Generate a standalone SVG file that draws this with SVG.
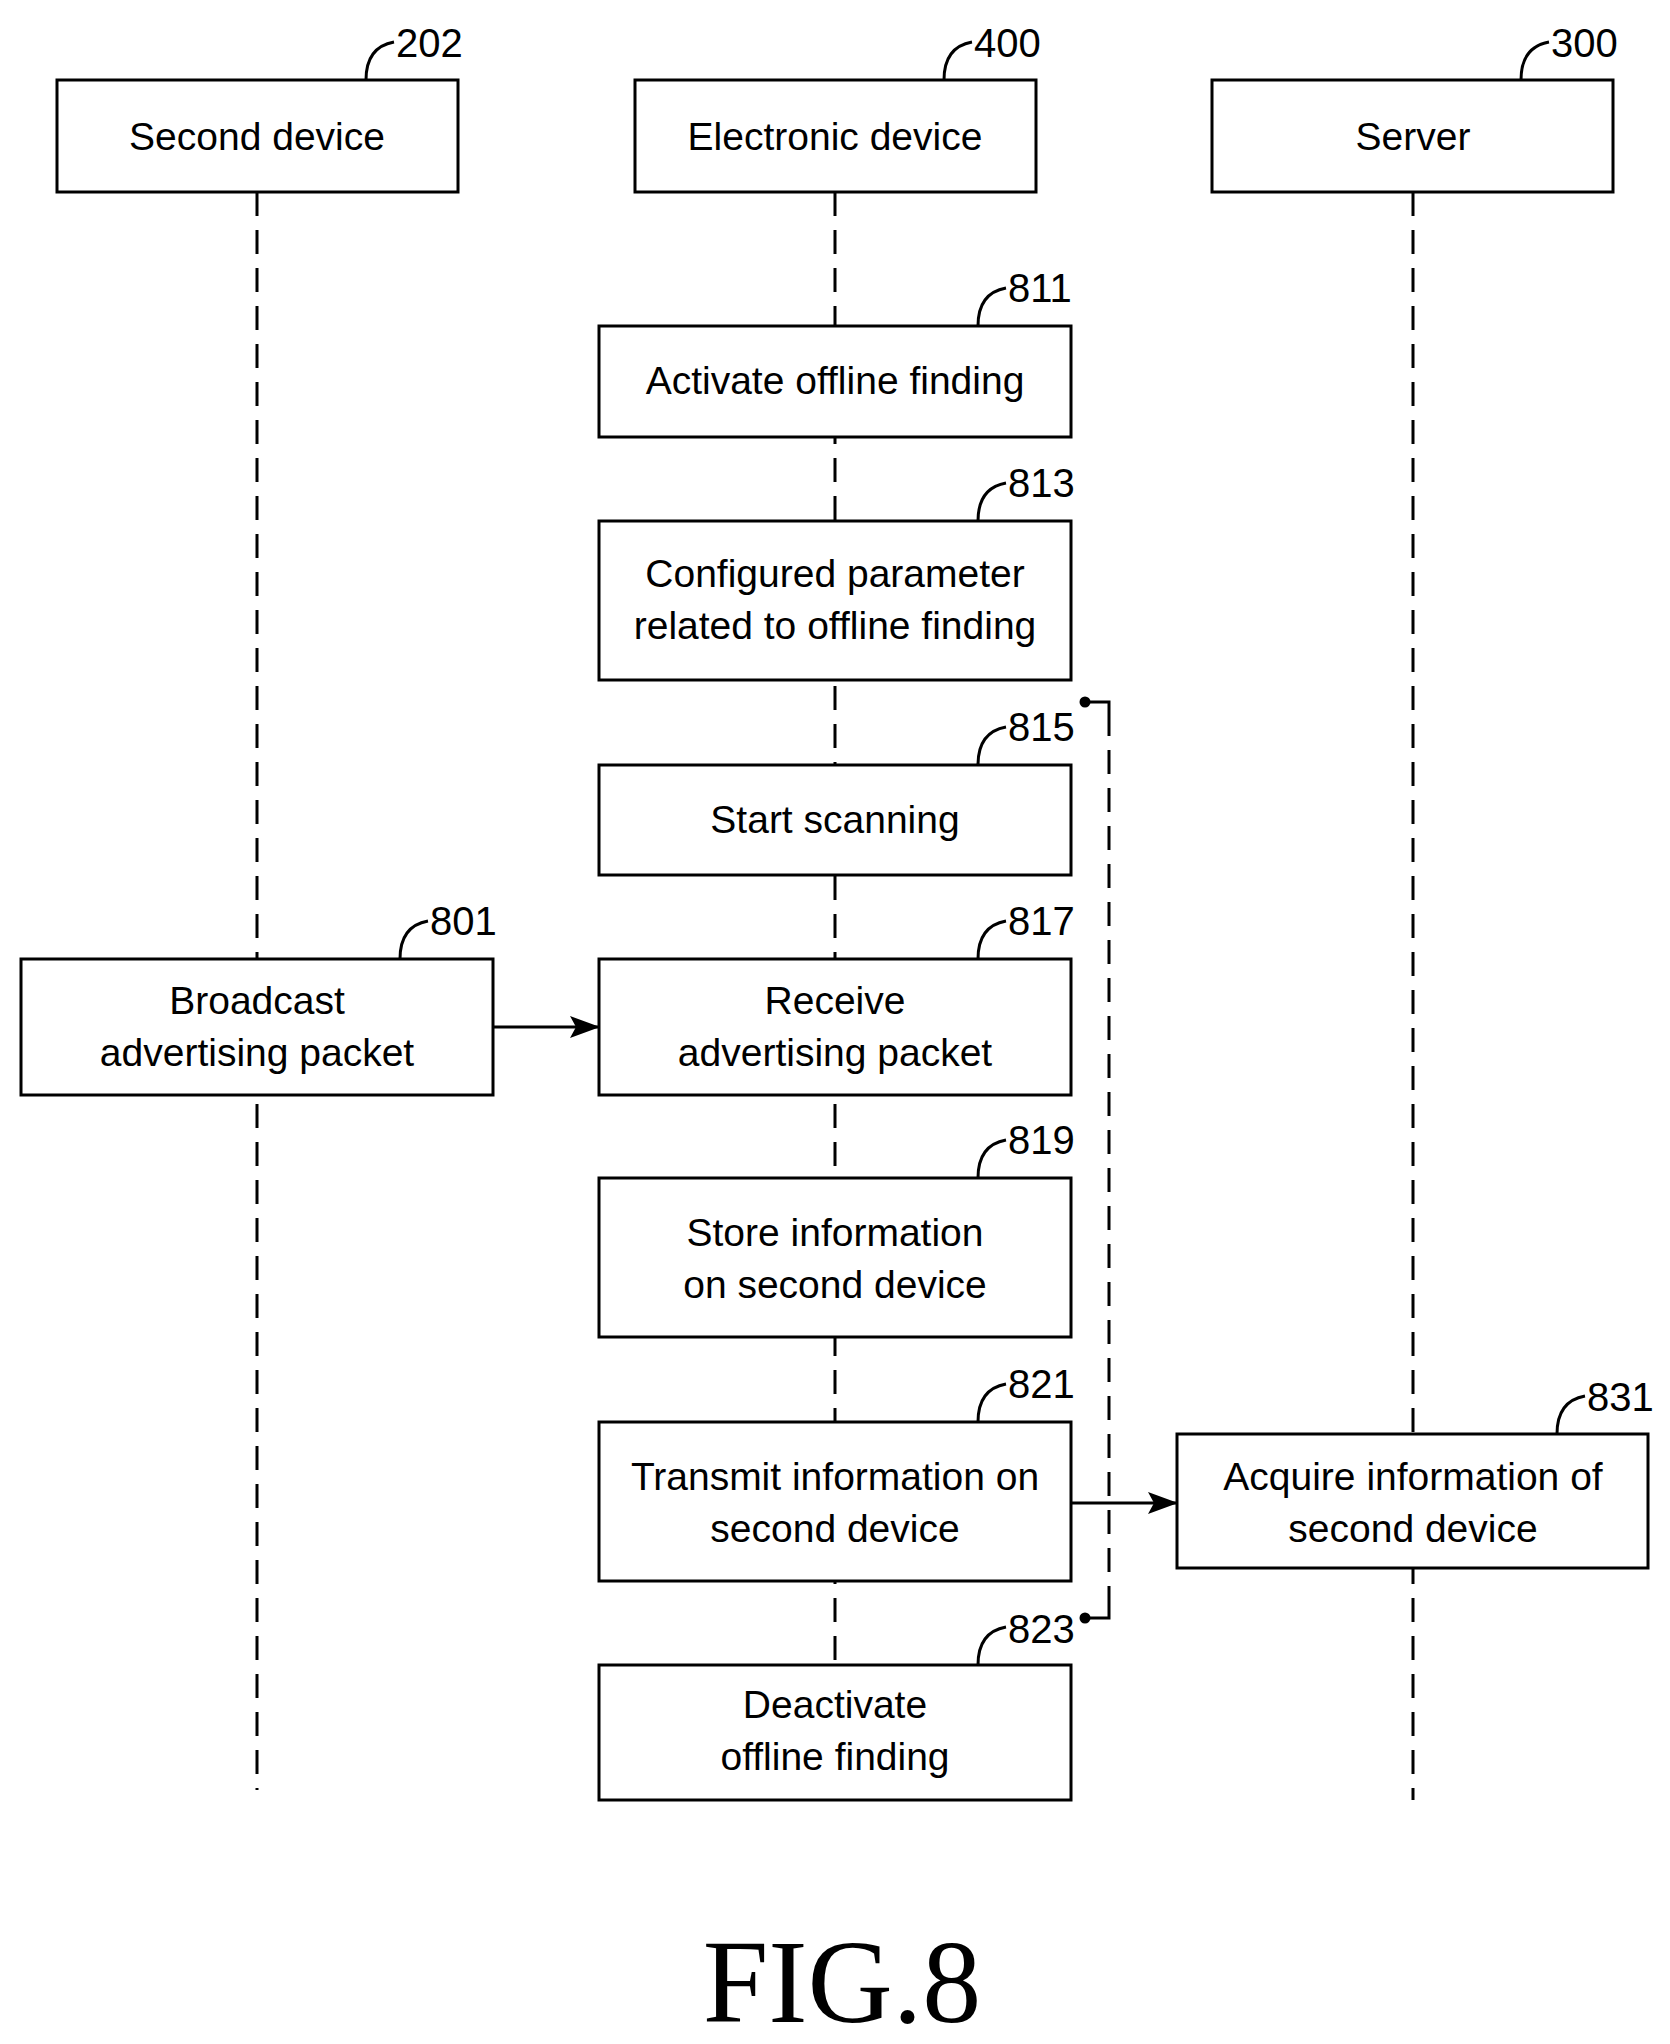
<svg xmlns="http://www.w3.org/2000/svg" width="1670" height="2044" viewBox="0 0 1670 2044">
<style>
.b{fill:#fff;stroke:#000;stroke-width:3}
.t{font-family:"Liberation Sans",Arial,sans-serif;font-size:39px;text-anchor:middle}
.n{font-family:"Liberation Sans",Arial,sans-serif;font-size:40px}
.l{fill:none;stroke:#000;stroke-width:3}
.d{fill:none;stroke:#000;stroke-width:3;stroke-dasharray:24,14}
</style>
<defs><marker id="a" markerWidth="30" markerHeight="22" refX="29" refY="11" orient="auto" markerUnits="userSpaceOnUse"><path d="M0,0L30,11L0,22L6,11z"/></marker></defs>
<g id="lifelines">
<line class="d" x1="257" y1="192" x2="257" y2="1790"/>
<line class="d" x1="835" y1="192" x2="835" y2="1665"/>
<line class="d" x1="1413" y1="192" x2="1413" y2="1800"/>
</g>
<g id="n202"><rect class="b" x="57" y="80" width="401" height="112"/><text class="t" x="257" y="150">Second device</text><path class="l" d="M366,80c0,-18 6,-34 28,-38"/><text class="n" x="396" y="57">202</text></g>
<g id="n400"><rect class="b" x="635" y="80" width="401" height="112"/><text class="t" x="835" y="150">Electronic device</text><path class="l" d="M944,80c0,-18 6,-34 28,-38"/><text class="n" x="974" y="57">400</text></g>
<g id="n300"><rect class="b" x="1212" y="80" width="401" height="112"/><text class="t" x="1413" y="150">Server</text><path class="l" d="M1521,80c0,-18 6,-34 28,-38"/><text class="n" x="1551" y="57">300</text></g>
<g id="n811"><rect class="b" x="599" y="326" width="472" height="111"/><text class="t" x="835" y="394">Activate offline finding</text><path class="l" d="M978,326c0,-18 6,-34 28,-38"/><text class="n" x="1008" y="302">811</text></g>
<g id="n813"><rect class="b" x="599" y="521" width="472" height="159"/><text class="t" x="835" y="587">Configured parameter</text><text class="t" x="835" y="639">related to offline finding</text><path class="l" d="M978,521c0,-18 6,-34 28,-38"/><text class="n" x="1008" y="497">813</text></g>
<g id="n815"><rect class="b" x="599" y="765" width="472" height="110"/><text class="t" x="835" y="833">Start scanning</text><path class="l" d="M978,765c0,-18 6,-34 28,-38"/><text class="n" x="1008" y="741">815</text></g>
<g id="n801"><rect class="b" x="21" y="959" width="472" height="136"/><text class="t" x="257" y="1014">Broadcast</text><text class="t" x="257" y="1066">advertising packet</text><path class="l" d="M400,959c0,-18 6,-34 28,-38"/><text class="n" x="430" y="935">801</text></g>
<g id="n817"><rect class="b" x="599" y="959" width="472" height="136"/><text class="t" x="835" y="1014">Receive</text><text class="t" x="835" y="1066">advertising packet</text><path class="l" d="M978,959c0,-18 6,-34 28,-38"/><text class="n" x="1008" y="935">817</text></g>
<g id="n819"><rect class="b" x="599" y="1178" width="472" height="159"/><text class="t" x="835" y="1246">Store information</text><text class="t" x="835" y="1298">on second device</text><path class="l" d="M978,1178c0,-18 6,-34 28,-38"/><text class="n" x="1008" y="1154">819</text></g>
<g id="n821"><rect class="b" x="599" y="1422" width="472" height="159"/><text class="t" x="835" y="1490">Transmit information on</text><text class="t" x="835" y="1542">second device</text><path class="l" d="M978,1422c0,-18 6,-34 28,-38"/><text class="n" x="1008" y="1398">821</text></g>
<g id="n831"><rect class="b" x="1177" y="1434" width="471" height="134"/><text class="t" x="1413" y="1490">Acquire information of</text><text class="t" x="1413" y="1542">second device</text><path class="l" d="M1557,1434c0,-18 6,-34 28,-38"/><text class="n" x="1587" y="1411">831</text></g>
<g id="n823"><rect class="b" x="599" y="1665" width="472" height="135"/><text class="t" x="835" y="1718">Deactivate</text><text class="t" x="835" y="1770">offline finding</text><path class="l" d="M978,1665c0,-18 6,-34 28,-38"/><text class="n" x="1008" y="1643">823</text></g>
<g id="connectors">
<line class="l" x1="493" y1="1027" x2="599" y2="1027" marker-end="url(#a)"/>
<line class="l" x1="1071" y1="1503" x2="1177" y2="1503" marker-end="url(#a)"/>
<path class="l" d="M1085,702H1109V712M1109,1608V1618H1085"/>
<line class="d" x1="1109" y1="712" x2="1109" y2="1608" stroke-dasharray="40,10"/>
<circle cx="1085" cy="702" r="5.5"/><circle cx="1085" cy="1618" r="5.5"/>
</g>
<text x="842" y="2022" font-family="Liberation Serif,serif" font-size="118" text-anchor="middle">FIG.8</text>
</svg>
